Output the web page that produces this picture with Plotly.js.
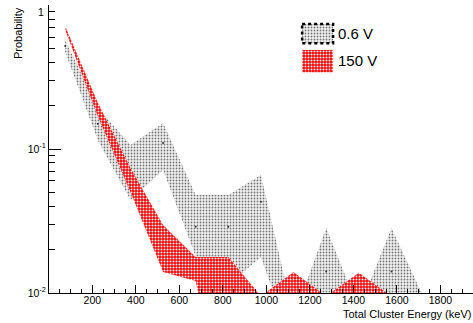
<!DOCTYPE html>
<html>
<head>
<meta charset="utf-8">
<script src="https://cdn.plot.ly/plotly-3.0.1.min.js"></script>
<style>html,body{margin:0;padding:0;background:#fff;}#plot{width:473px;height:323px;}</style>
</head>
<body>
<div id="plot"></div>
<script>
// Bin centres (keV)
const energy = [75, 225, 375, 525, 675, 825, 975, 1125, 1275, 1425, 1575, 1725];

// 0.6 V : band upper / lower edges and central values
const v06High = [0.57, 0.193, 0.1065, 0.1516, 0.048, 0.048, 0.066, 0.0068, 0.0283, 0.0077, 0.0283, 0.0092];
const v06Low  = [0.472, 0.115, 0.0443, 0.0714, 0.018, 0.0113, 0.0178, 0.004, 0.001, 0.001, 0.001, 0.001];
const v06Mid  = [0.52, 0.15, 0.069, 0.11, 0.0289, 0.0289, 0.043, null, 0.0141, null, 0.0141, null];

// 150 V : band upper / lower edges
const v150High = [0.714, 0.21, 0.0738, 0.0297, 0.0178, 0.0178, 0.0095, 0.014, 0.0095, 0.0138, 0.0095, 0.0095];
const v150Low  = [0.67, 0.169, 0.0503, 0.014, 0.0121, 0.001, 0.001, 0.001, 0.001, 0.001, 0.001, 0.001];

const seriesNames = ["0.6 V", "150 V"];
const xTitle = "Total Cluster Energy (keV)";
const yTitle = "Probability";
const yMajorTicks = [0.01, 0.1, 1];
const yMajorLabels = ['10<sup>-2</sup>', '10<sup>-1</sup>', ''];
const yTopLabel = '1';
const yMinorTicks = [0.02, 0.03, 0.04, 0.05, 0.06, 0.07, 0.08, 0.09, 0.2, 0.3, 0.4, 0.5, 0.6, 0.7, 0.8, 0.9];

function band(x, hi, lo) {
  return {
    x: x.concat(x.slice().reverse()),
    y: hi.concat(lo.slice().reverse())
  };
}

const greyPattern = {shape: '.', fgcolor: '#777777', bgcolor: '#f2f2f2', size: 3, solidity: 0.3};
const redPattern = {shape: '.', fgcolor: '#ffffff', bgcolor: '#ff0000', size: 3, solidity: 0.36};

const gB = band(energy, v06High, v06Low);
const rB = band(energy, v150High, v150Low);

const traces = [
  {x: gB.x, y: gB.y, type: 'scatter', mode: 'lines', fill: 'toself',
   fillpattern: greyPattern, fillcolor: '#f2f2f2', line: {width: 0}, hoverinfo: 'skip', showlegend: false},
  {x: energy, y: v06Mid, type: 'scatter', mode: 'markers',
   marker: {size: 2, color: '#333333'}, showlegend: false, hoverinfo: 'skip'},
  {x: rB.x, y: rB.y, type: 'scatter', mode: 'lines', fill: 'toself',
   fillpattern: redPattern, fillcolor: '#ff0000', line: {width: 0}, hoverinfo: 'skip', showlegend: false},
  // legend swatches on an overlay (paper-like) axis
  {x: [0.597, 0.670, 0.670, 0.597, 0.597], y: [0.934, 0.934, 0.867, 0.867, 0.934],
   xaxis: 'x2', yaxis: 'y2', type: 'scatter', mode: 'lines', fill: 'toself',
   fillpattern: greyPattern, fillcolor: '#f2f2f2',
   line: {color: '#000000', width: 2.5, dash: 'dot'}, showlegend: false, hoverinfo: 'skip'},
  {x: [0.597, 0.670, 0.670, 0.597, 0.597], y: [0.844, 0.844, 0.766, 0.766, 0.844],
   xaxis: 'x2', yaxis: 'y2', type: 'scatter', mode: 'lines', fill: 'toself',
   fillpattern: redPattern, fillcolor: '#ff0000',
   line: {width: 0}, showlegend: false, hoverinfo: 'skip'},
  // empty trace so the minor-tick overlay axis is drawn
  {x: [null], y: [null], xaxis: 'x', yaxis: 'y3', type: 'scatter', mode: 'markers', showlegend: false, hoverinfo: 'skip'}
];

const font = {family: 'Liberation Sans, Arial, sans-serif', color: '#000000'};
const yRange = [-2, 0.0005];

const layout = {
  width: 473, height: 323,
  margin: {l: 49, r: 0, t: 5, b: 30, pad: 0},
  paper_bgcolor: '#ffffff', plot_bgcolor: '#ffffff',
  showlegend: false,
  font: Object.assign({size: 10.5}, font),
  xaxis: {
    range: [0.5, 1950], tickmode: 'linear', tick0: 0, dtick: 200,
    ticks: 'inside', ticklen: 8, tickwidth: 1, tickcolor: '#000',
    ticklabelstandoff: -3,
    showline: true, linecolor: '#000', linewidth: 1, showgrid: false, zeroline: false,
    tickfont: Object.assign({size: 10.5}, font),
    minor: {ticks: 'inside', ticklen: 4, tickcolor: '#000', dtick: 50, tick0: 0, showgrid: false}
  },
  yaxis: {
    type: 'log', range: yRange, tickmode: 'array', tickvals: yMajorTicks, ticktext: yMajorLabels,
    ticks: 'inside', ticklen: 12, tickwidth: 1, tickcolor: '#000',
    showline: true, linecolor: '#000', linewidth: 1, showgrid: false, zeroline: false,
    tickfont: Object.assign({size: 10.5}, font)
  },
  yaxis3: {
    type: 'log', range: yRange, overlaying: 'y', anchor: 'x', side: 'left',
    tickmode: 'array', tickvals: yMinorTicks, showticklabels: false,
    ticks: 'inside', ticklen: 6, tickwidth: 1, tickcolor: '#000',
    showline: false, showgrid: false, zeroline: false
  },
  xaxis2: {overlaying: 'x', range: [0, 1], visible: false, fixedrange: true},
  yaxis2: {overlaying: 'y', range: [0, 1], visible: false, fixedrange: true, anchor: 'x2'},
  annotations: [
    {text: yTopLabel, xref: 'paper', yref: 'paper', x: -0.008, y: 1.005, xanchor: 'right', yanchor: 'top',
     showarrow: false, font: Object.assign({size: 10.5}, font)},
    {text: yTitle, xref: 'paper', yref: 'paper', x: -0.073, y: 1, xanchor: 'center', yanchor: 'top',
     textangle: -90, showarrow: false, font: Object.assign({size: 11}, font)},
    {text: xTitle, xref: 'paper', yref: 'paper', x: 1, y: -0.074, xanchor: 'right', yanchor: 'middle',
     showarrow: false, font: Object.assign({size: 11}, font)},
    {text: seriesNames[0], xref: 'paper', yref: 'paper', x: 0.678, y: 0.90, xanchor: 'left', yanchor: 'middle',
     showarrow: false, font: Object.assign({size: 15}, font)},
    {text: seriesNames[1], xref: 'paper', yref: 'paper', x: 0.678, y: 0.808, xanchor: 'left', yanchor: 'middle',
     showarrow: false, font: Object.assign({size: 15}, font)}
  ]
};

Plotly.newPlot('plot', traces, layout, {staticPlot: true, displayModeBar: false});
</script>
</body>
</html>
